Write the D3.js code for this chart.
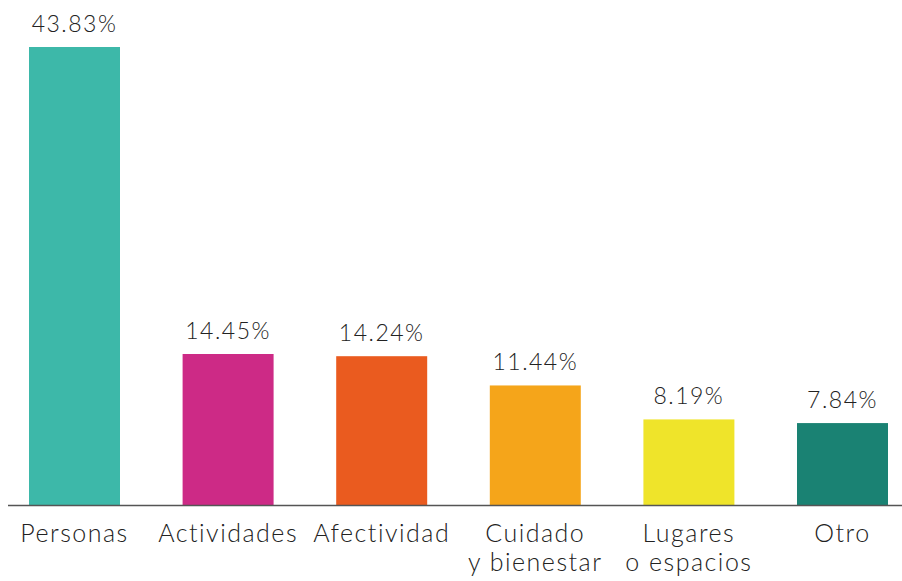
<!DOCTYPE html>
<html>
<head>
<meta charset="utf-8">
<script src="https://cdn.jsdelivr.net/npm/d3@7"></script>
<style>
  body { margin: 0; background: #fff; }
  svg text { font-family: "Lato", "Open Sans", sans-serif; font-weight: 300; fill: #222; }
</style>
</head>
<body>
<div id="chart"></div>
<script>
// Chart data
const categories = ["Personas", "Actividades", "Afectividad", "Cuidado\ny bienestar", "Lugares\no espacios", "Otro"];
const values = [43.83, 14.45, 14.24, 11.44, 8.19, 7.84];
const valueLabels = ["43.83%", "14.45%", "14.24%", "11.44%", "8.19%", "7.84%"];
const colors = ["#3db8a9", "#cd2a86", "#ea5b1f", "#f5a51a", "#efe42a", "#1a8273"];

const width = 902;
const height = 581;
const baseline = 505;

const svg = d3.select("#chart")
  .append("svg")
  .attr("width", width)
  .attr("height", height);

// Scales
const xScale = d3.scaleBand()
  .domain(categories)
  .range([29, 888])
  .paddingInner(0.4076)
  .paddingOuter(0);

const yScale = d3.scaleLinear()
  .domain([0, 43.83])
  .range([baseline, 47]);

// Bars
svg.selectAll("rect.bar")
  .data(values)
  .join("rect")
  .attr("class", "bar")
  .attr("x", (d, i) => xScale(categories[i]))
  .attr("y", d => yScale(d))
  .attr("width", xScale.bandwidth())
  .attr("height", d => baseline - yScale(d))
  .attr("fill", (d, i) => colors[i]);

// Value labels above the bars
svg.selectAll("text.value")
  .data(values)
  .join("text")
  .attr("class", "value")
  .attr("text-anchor", "middle")
  .attr("x", (d, i) => xScale(categories[i]) + xScale.bandwidth() / 2)
  .attr("y", d => yScale(d) - 15)
  .attr("font-size", 23)
  .attr("letter-spacing", 1.5)
  .text((d, i) => valueLabels[i]);

// Baseline axis
svg.append("line")
  .attr("x1", 8)
  .attr("x2", width)
  .attr("y1", baseline + 0.5)
  .attr("y2", baseline + 0.5)
  .attr("stroke", "#555")
  .attr("stroke-width", 1.5);

// Category labels (two lines when needed)
const catLabels = svg.selectAll("text.cat")
  .data(categories)
  .join("text")
  .attr("class", "cat")
  .attr("text-anchor", "middle")
  .attr("font-size", 25)
  .attr("letter-spacing", 1.5)
  .attr("x", d => xScale(d) + xScale.bandwidth() / 2)
  .attr("y", 542);

catLabels.selectAll("tspan")
  .data(d => d.split("\n").map(t => ({ t, x: xScale(d) + xScale.bandwidth() / 2 })))
  .join("tspan")
  .attr("x", d => d.x)
  .attr("dy", (d, i) => i === 0 ? 0 : 29)
  .text(d => d.t);
</script>
</body>
</html>
